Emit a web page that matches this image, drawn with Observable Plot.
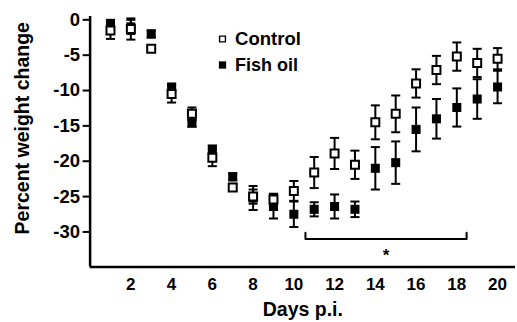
<!DOCTYPE html>
<html>
<head>
<meta charset="utf-8">
<script src="https://cdn.jsdelivr.net/npm/d3@7"></script>
<script src="https://cdn.jsdelivr.net/npm/@observablehq/plot@0.6"></script>
<style>
  html, body { margin: 0; padding: 0; background: #fff; }
  #chart { width: 517px; height: 322px; }
</style>
</head>
<body>
<div id="chart"></div>
<script>
// ---- Data ----
const days = [1, 2, 3, 4, 5, 6, 7, 8, 9, 10, 11, 12, 13, 14, 15, 16, 17, 18, 19, 20];
const controlMean = [-1.5, -1.3, -4.1, -10.5, -13.3, -19.5, -23.7, -25.0, -25.4, -24.2, -21.6, -18.9, -20.5, -14.5, -13.3, -9.0, -7.1, -5.2, -6.1, -5.5];
const controlErr  = [1.2, 1.5, 0.4, 1.2, 0.9, 1.2, 0.5, 1.0, 0.8, 1.4, 2.2, 2.2, 2.0, 2.4, 2.6, 2.0, 2.0, 2.0, 2.0, 1.5];
const fishMean    = [-0.7, -1.0, -2.0, -9.6, -14.6, -18.3, -22.2, -25.2, -26.4, -27.5, -26.8, -26.4, -26.8, -21.0, -20.2, -15.5, -14.0, -12.4, -11.2, -9.5];
const fishErr     = [0.7, 1.0, 0.5, 0.6, 0.5, 0.5, 0.5, 1.7, 1.7, 1.8, 1.0, 1.7, 1.1, 3.0, 3.0, 3.1, 2.8, 2.7, 2.8, 2.3];
const seriesNames = ["Control", "Fish oil"];
const xTicks = [2, 4, 6, 8, 10, 12, 14, 16, 18, 20];
const yTicks = [0, -5, -10, -15, -20, -25, -30];
const xLabel = "Days p.i.";
const yLabel = "Percent weight change";
// significance bracket (day range and level, data units)
const bracketDays = [10.57, 18.48];
const bracketLevels = [-30.1, -31.0];
const starLevel = -33.4;
const starText = "*";

const xDomain = [0, 20.88];
const yDomain = [-34.96, 0.47];

// ---- Build tables ----
const control = days.map((d, i) => ({day: d, mean: controlMean[i], err: controlErr[i]}));
const fish = days.map((d, i) => ({day: d, mean: fishMean[i], err: fishErr[i]}));
const bracket = [
  {x: bracketDays[0], y: bracketLevels[0]},
  {x: bracketDays[0], y: bracketLevels[1]},
  {x: bracketDays[1], y: bracketLevels[1]},
  {x: bracketDays[1], y: bracketLevels[0]}
];

const capSymbol = {
  draw(ctx, size) {
    const w = Math.sqrt(size);
    ctx.moveTo(-w / 2, 0);
    ctx.lineTo(w / 2, 0);
  }
};

const errMarks = (rows) => [
  Plot.ruleX(rows, {x: "day", y1: d => d.mean - d.err, y2: d => d.mean + d.err, stroke: "black", strokeWidth: 2}),
  Plot.dot(rows, {x: "day", y: d => d.mean + d.err, symbol: capSymbol, r: 5.1, fill: "none", stroke: "black", strokeWidth: 2}),
  Plot.dot(rows, {x: "day", y: d => d.mean - d.err, symbol: capSymbol, r: 5.1, fill: "none", stroke: "black", strokeWidth: 2})
];

const legendControl = [seriesNames[0]];
const legendFish = [seriesNames[1]];

const chart = Plot.plot({
  width: 517,
  height: 322,
  marginLeft: 89.6,
  marginRight: 2,
  marginTop: 16,
  marginBottom: 55.5,
  style: {fontFamily: "'Liberation Sans', Arial, sans-serif", fontWeight: "bold", background: "white", color: "black"},
  x: {domain: xDomain},
  y: {domain: yDomain},
  marks: [
    Plot.axisY({ticks: yTicks, tickFormat: d => String(d), tickSize: 7, tickPadding: 3, strokeWidth: 2, fontSize: 18.5, fontWeight: "bold", label: null}),
    Plot.axisX({ticks: xTicks, tickFormat: d => String(d), tickSize: 0, tickPadding: 11, fontSize: 17, fontWeight: "bold", label: null}),
    Plot.ruleX([xDomain[0]], {y1: yDomain[0], y2: yDomain[1], stroke: "black", strokeWidth: 2.5}),
    Plot.ruleY([yDomain[0]], {x1: xDomain[0], x2: xDomain[1], stroke: "black", strokeWidth: 2.5}),
    ...errMarks(fish),
    ...errMarks(control),
    Plot.dot(fish, {x: "day", y: "mean", symbol: "square", r: 5.1, fill: "black", stroke: "none"}),
    Plot.dot(control, {x: "day", y: "mean", symbol: "square", r: 4.5, fill: "white", stroke: "black", strokeWidth: 2}),
    // significance bracket and star
    Plot.line(bracket, {x: "x", y: "y", stroke: "black", strokeWidth: 2}),
    Plot.text([starText], {x: (bracketDays[0] + bracketDays[1]) / 2, y: starLevel, text: d => d, fontSize: 17, fontWeight: "bold"}),
    // legend
    Plot.dot(legendControl, {frameAnchor: "top-left", dx: 132.4, dy: 22.5, symbol: "square", r: 3.3, fill: "white", stroke: "black", strokeWidth: 1.4}),
    Plot.dot(legendFish, {frameAnchor: "top-left", dx: 132.4, dy: 48.5, symbol: "square", r: 4.1, fill: "black", stroke: "none"}),
    Plot.text(legendControl, {frameAnchor: "top-left", dx: 145, dy: 22.5, text: d => d, textAnchor: "start", lineAnchor: "middle", fontSize: 18.5, fontWeight: "bold"}),
    Plot.text(legendFish, {frameAnchor: "top-left", dx: 145, dy: 48.5, text: d => d, textAnchor: "start", lineAnchor: "middle", fontSize: 18, fontWeight: "bold"}),
    // axis titles
    Plot.text([xLabel], {frameAnchor: "bottom", dy: 43, text: d => d, textAnchor: "middle", lineAnchor: "middle", fontSize: 19.5, fontWeight: "bold"}),
    Plot.text([yLabel], {frameAnchor: "left", dx: -67, dy: -13.5, rotate: -90, text: d => d, textAnchor: "middle", lineAnchor: "middle", fontSize: 19.5, fontWeight: "bold"})
  ]
});
document.getElementById("chart").appendChild(chart);
</script>
</body>
</html>
